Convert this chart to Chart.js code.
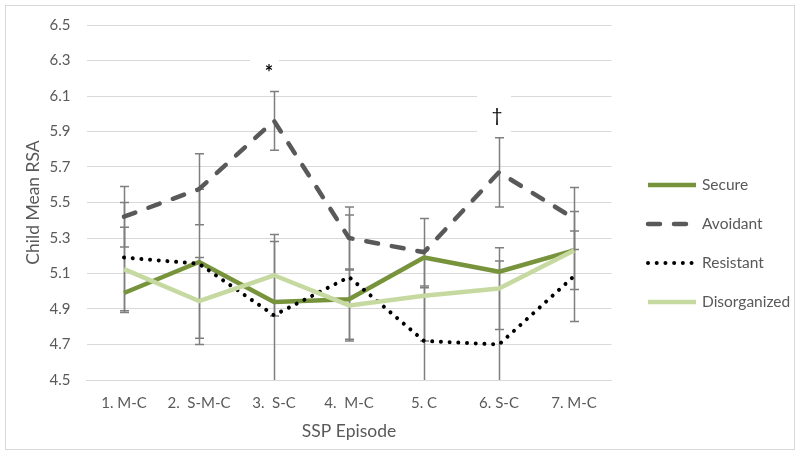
<!DOCTYPE html>
<html lang="en">
<head>
<meta charset="UTF-8">
<title>Child Mean RSA by SSP Episode</title>
<script src="https://cdn.jsdelivr.net/npm/chart.js"></script>
<style>
    body { margin: 0; background: #fff; }
    .grafico { position: relative; width: 800px; height: 456px; }
</style>
</head>
<body>
<div class="grafico"><canvas id="graficoRSA" width="800" height="456"></canvas></div>

<script>
    // episode labels (x axis)
    const episodes = ['1. M-C', '2.  S-M-C', '3.  S-C', '4.  M-C', '5. C', '6. S-C', '7. M-C'];

    // mean RSA per attachment group
    const secure = [4.99, 5.165, 4.94, 4.955, 5.19, 5.11, 5.23];
    const avoidant = [5.42, 5.575, 5.96, 5.30, 5.22, 5.67, 5.41];
    const resistant = [5.19, 5.155, 4.865, 5.08, 4.72, 4.70, 5.085];
    const disorganized = [5.125, 4.945, 5.09, 4.92, 4.975, 5.015, 5.23];

    // error bar half-widths (secure has none)
    const avoidantErr = [0.17, 0.2, 0.165, 0.175, 0.19, 0.195, 0.175];
    const resistantErr = [0.31, 0.42, 0.415, 0.35, 0.3, 0.47, 0.255];
    const disorganizedErr = [0.235, 0.245, 0.23, 0.2, 0.255, 0.23, 0.22];

    // y axis
    const yMin = 4.5;
    const yMax = 6.5;
    const yStep = 0.2;

    // significance marks
    const markText = ['*', '\u2020'];
    const markIndex = [2, 5];
    const markValue = [6.245, 5.98];

    const textGray = '#595959';
    const gridGray = '#d9d9d9';
    const fontName = 'Lato, "Open Sans", sans-serif';

    // frame, white boxes + marks, error bars, y labels, legend
    const decoracao = {
        id: 'decoracao',
        beforeDraw(chart) {
            const ctx = chart.ctx;
            ctx.save();
            ctx.fillStyle = '#fff';
            ctx.fillRect(0, 0, chart.width, chart.height);
            ctx.strokeStyle = gridGray;
            ctx.lineWidth = 1;
            ctx.strokeRect(5.5, 5.5, 789, 444);
            ctx.restore();
        },
        beforeDatasetsDraw(chart) {
            const ctx = chart.ctx;
            const x = chart.scales.x;
            const y = chart.scales.y;
            const area = chart.chartArea;

            // label boxes hide the gridlines
            ctx.save();
            ctx.fillStyle = '#fff';
            ctx.fillRect(x.getPixelForValue(markIndex[0]) - 24, y.getPixelForValue(markValue[0]) - 18, 29, 36);
            ctx.fillRect(x.getPixelForValue(markIndex[1]) - 22, y.getPixelForValue(markValue[1]) - 27, 34, 45);
            ctx.restore();

            // error bars
            ctx.save();
            ctx.beginPath();
            ctx.rect(area.left, area.top, area.right - area.left, area.bottom - area.top);
            ctx.clip();
            ctx.strokeStyle = '#7f7f7f';
            ctx.lineWidth = 1.5;
            const grupos = [[avoidant, avoidantErr], [resistant, resistantErr], [disorganized, disorganizedErr]];
            grupos.forEach(([valores, erros]) => {
                valores.forEach((v, i) => {
                    const px = Math.round(x.getPixelForValue(i)) + 0.5;
                    const top = y.getPixelForValue(v + erros[i]);
                    const bot = y.getPixelForValue(v - erros[i]);
                    ctx.beginPath();
                    ctx.moveTo(px, top);
                    ctx.lineTo(px, bot);
                    ctx.moveTo(px - 4.5, top);
                    ctx.lineTo(px + 4.5, top);
                    ctx.moveTo(px - 4.5, bot);
                    ctx.lineTo(px + 4.5, bot);
                    ctx.stroke();
                });
            });
            ctx.restore();
        },
        afterDatasetsDraw(chart) {
            const ctx = chart.ctx;
            const x = chart.scales.x;
            const y = chart.scales.y;
            ctx.save();
            ctx.fillStyle = '#000';
            ctx.textAlign = 'center';
            ctx.textBaseline = 'middle';
            ctx.font = 'bold 20px ' + fontName;
            ctx.fillText(markText[0], x.getPixelForValue(markIndex[0]) - 5, y.getPixelForValue(markValue[0]) + 3);
            ctx.font = '19px ' + fontName;
            ctx.fillText(markText[1], x.getPixelForValue(markIndex[1]) - 2, y.getPixelForValue(markValue[1]) - 1);
            ctx.restore();
        },
        afterDraw(chart) {
            const ctx = chart.ctx;
            const y = chart.scales.y;
            ctx.save();

            // y tick labels, right aligned 16px left of the plot
            ctx.font = '15px ' + fontName;
            ctx.fillStyle = textGray;
            ctx.textAlign = 'right';
            ctx.textBaseline = 'middle';
            y.ticks.forEach(t => {
                ctx.fillText(t.value.toFixed(1), chart.chartArea.left - 16, y.getPixelForValue(t.value));
            });

            // legend
            ctx.font = '15.5px ' + fontName;
            ctx.textAlign = 'left';
            chart.data.datasets.forEach((ds, i) => {
                const ly = 185 + i * 39;
                ctx.beginPath();
                ctx.strokeStyle = ds.borderColor;
                ctx.lineWidth = ds.borderWidth;
                ctx.lineCap = ds.borderCapStyle;
                ctx.setLineDash(ds.borderDash);
                ctx.moveTo(648, ly);
                ctx.lineTo(696, ly);
                ctx.stroke();
                ctx.setLineDash([]);
                ctx.fillStyle = textGray;
                ctx.fillText(ds.label, 702, ly);
            });
            ctx.restore();
        }
    };

    const ctx = document.getElementById('graficoRSA').getContext('2d');
    new Chart(ctx, {
        type: 'line',
        data: {
            labels: episodes,
            datasets: [
                {
                    label: 'Secure', data: secure, order: 4,
                    borderColor: '#77933c', borderWidth: 4.5, borderDash: [], borderCapStyle: 'butt'
                },
                {
                    label: 'Avoidant', data: avoidant, order: 3,
                    borderColor: '#595959', borderWidth: 4.5, borderDash: [12, 14], borderCapStyle: 'round'
                },
                {
                    label: 'Resistant', data: resistant, order: 2,
                    borderColor: '#000000', borderWidth: 4, borderDash: [0.01, 8.7], borderCapStyle: 'round'
                },
                {
                    label: 'Disorganized', data: disorganized, order: 1,
                    borderColor: '#c6d9a1', borderWidth: 4.5, borderDash: [], borderCapStyle: 'butt'
                }
            ]
        },
        options: {
            responsive: false,
            animation: false,
            devicePixelRatio: 1,
            layout: { padding: { left: 0, top: 25, right: 188.5, bottom: 0 } },
            elements: {
                point: { radius: 0 },
                line: { tension: 0, fill: false, borderJoinStyle: 'round' }
            },
            plugins: {
                legend: { display: false },
                tooltip: { enabled: false }
            },
            scales: {
                x: {
                    offset: true,
                    grid: { display: false, drawTicks: false },
                    border: { color: gridGray },
                    ticks: { color: textGray, padding: 14, font: { family: fontName, size: 15 }, maxRotation: 0, autoSkip: false },
                    title: {
                        display: true, text: 'SSP Episode', color: textGray,
                        font: { family: fontName, size: 17.5 }, padding: { top: 0, bottom: 14 }
                    },
                    afterFit(scale) { scale.height = 76; }
                },
                y: {
                    min: yMin,
                    max: yMax,
                    grid: { color: gridGray, drawTicks: false },
                    border: { display: false },
                    ticks: { stepSize: yStep, display: false },
                    title: {
                        display: true, text: 'Child Mean RSA', color: textGray,
                        font: { family: fontName, size: 17.5 }, padding: { top: 22.5, bottom: 0 }
                    },
                    afterFit(scale) { scale.width = 86.5; }
                }
            }
        },
        plugins: [decoracao]
    });
</script>
</body>
</html>
